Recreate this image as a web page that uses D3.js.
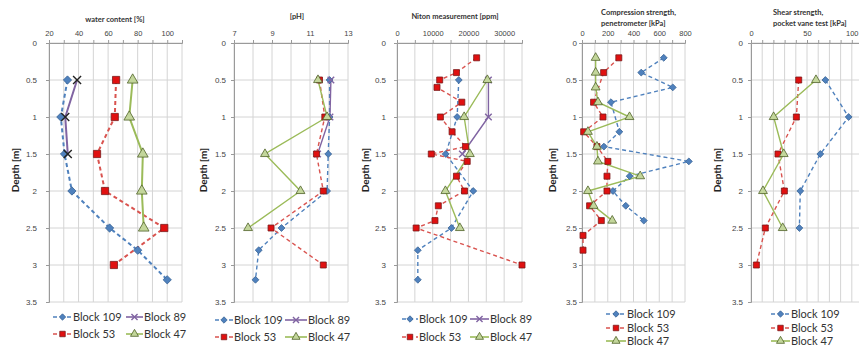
<!DOCTYPE html>
<html>
<head>
<meta charset="utf-8">
<script src="https://cdn.jsdelivr.net/npm/d3@7"></script>
<style>
  body { margin: 0; background: #fff; }
  svg { display: block; font-family: Lato, "Liberation Sans", sans-serif; }
</style>
</head>
<body>
<svg id="chart" width="859" height="346"></svg>
<script>
// depth ticks and sample depths [m]
const depthTicks = [0, 0.5, 1, 1.5, 2, 2.5, 3, 3.5];
const depth109 = [0.5, 1, 1.5, 2, 2.5, 2.8, 3.2];
const depth89 = [0.5, 1, 1.5];
const depth53 = [0.5, 1, 1.5, 2, 2.5, 3];
const depth47 = [0.5, 1, 1.5, 2, 2.5];
const depthNiton53 = [0.2, 0.4, 0.5, 0.6, 0.8, 1, 1.2, 1.4, 1.5, 1.6, 1.8, 2, 2.2, 2.4, 2.5, 3];
const depthComp109 = [0.2, 0.4, 0.6, 0.8, 1.2, 1.4, 1.6, 1.8, 2, 2.2, 2.4];
const depthComp53 = [0.2, 0.4, 0.8, 1, 1.2, 1.4, 1.6, 1.8, 2, 2.2, 2.4, 2.6, 2.8];
const depthComp47 = [0.2, 0.4, 0.6, 0.8, 1, 1.2, 1.4, 1.6, 1.8, 2, 2.2, 2.4];
const depthShear109 = [0.5, 1, 1.5, 2, 2.5];

// water content [%]
const water109 = [32.5, 28, 30.5, 35.5, 61, 80, 100];
const water89 = [39, 31, 32.7];
const water53 = [65.4, 64.5, 52.5, 57.9, 98, 63.9];
const water47 = [76.6, 74.3, 83.5, 82.8, 84.1];

// pH
const ph109 = [12.03, 12.03, 11.96, 11.9, 9.5, 8.3, 8.13];
const ph89 = [12.1, 12.05, 11.4];
const ph53 = [11.5, 11.78, 11.34, 11.7, 8.95, 11.7];
const ph47 = [11.42, 11.9, 8.63, 10.5, 7.74];

// Niton [ppm]
const niton109 = [17300, 16840, 13640, 21350, 15240, 5830, 5830];
const niton89 = [25600, 25600, 18300];
const niton53 = [22300, 16650, 11950, 11200, 18150, 12150, 15430, 19200, 9600, 19660, 16650, 18900, 11570, 10630, 5360, 35000];
const niton47 = [25300, 18800, 20400, 13550, 17600];

// compression strength [kPa]
const comp109 = [635, 460, 705, 225, 290, 170, 830, 370, 240, 340, 480];
const comp53 = [286, 168, 90, 163, 13, 116, 201, 194, 194, 59, 150, 8, 8];
const comp47 = [106, 106, 106, 124, 369, 46, 116, 124, 452, 46, 90, 235];

// shear strength [kPa]
const shear109 = [66.4, 87.2, 61.9, 44, 43.2];
const shear53 = [42.6, 40.5, 24.1, 29.8, 12.8, 4.8];
const shear47 = [58, 20.2, 29.2, 10.7, 28.3];

const styles = {
  b109: { name: 'Block 109', color: '#4F81BD', dash: '4,3', sym: d3.symbolDiamond2 || d3.symbolDiamond, fill: '#4F81BD', stroke: '#3A6496' },
  b89:  { name: 'Block 89',  color: '#8064A2', dash: null,  sym: d3.symbolTimes || d3.symbolCross, fill: 'none', stroke: '#8064A2' },
  b53:  { name: 'Block 53',  color: '#D9534F', dash: '4,3', sym: d3.symbolSquare, fill: '#E01010', stroke: '#7A1A1A' },
  b47:  { name: 'Block 47',  color: '#9BBB59', dash: null,  sym: d3.symbolTriangle, fill: '#C3D69B', stroke: '#4F6228' }
};

const panels = [
  { left: 49, right: 182, domain: [20, 110], minor: 10, labels: [20, 40, 60, 80, 100],
    title: ['water content [%]'], titleX: 115, titleY: [22], titleAnchor: 'middle',
    yLabGap: 12, depthX: 15, big: true,
    series: [['b109', depth109, water109], ['b89', depth89, water89], ['b53', depth53, water53], ['b47', depth47, water47]],
    legend: { cols: [53, 126], rows: [317, 334], order: [['b109', 'b89'], ['b53', 'b47']], w: [19, 17] } },
  { left: 234, right: 348, domain: [7, 13], minor: 1, labels: [7, 9, 11, 13],
    title: ['[pH]'], titleX: 297, titleY: [19], titleAnchor: 'middle',
    yLabGap: 8, depthX: 203,
    series: [['b109', depth109, ph109], ['b89', depth89, ph89], ['b53', depth53, ph53], ['b47', depth47, ph47]],
    legend: { cols: [215, 285], rows: [320, 337], order: [['b109', 'b89'], ['b53', 'b47']], w: [18, 22] } },
  { left: 397, right: 522, domain: [0, 35000], minor: 5000, labels: [0, 10000, 20000, 30000],
    title: ['Niton measurement  [ppm]'], titleX: 455, titleY: [19], titleAnchor: 'middle',
    yLabGap: 11, depthX: 365,
    series: [['b109', depth109, niton109], ['b89', depth89, niton89], ['b53', depthNiton53, niton53], ['b47', depth47, niton47]],
    legend: { cols: [402, 470], rows: [319, 337], order: [['b109', 'b89'], ['b53', 'b47']], w: [16, 19] } },
  { left: 582, right: 685, domain: [0, 800], minor: 100, labels: [0, 200, 400, 600, 800],
    title: ['Compression strength,', 'penetrometer [kPa]'], titleX: 601, titleY: [15, 26], titleAnchor: 'start',
    yLabGap: 5, depthX: 552,
    series: [['b109', depthComp109, comp109], ['b53', depthComp53, comp53], ['b47', depthComp47, comp47]],
    legend: { cols: [606], rows: [314, 328, 341], order: [['b109'], ['b53'], ['b47']], w: [20] } },
  { left: 751, right: 863, domain: [0, 100], minor: 10, labels: [0, 50, 100],
    title: ['Shear strength,', 'pocket vane test [kPa]'], titleX: 773, titleY: [15, 26], titleAnchor: 'start',
    yLabGap: 8, depthX: 717,
    series: [['b109', depthShear109, shear109], ['b53', depth53, shear53], ['b47', depth47, shear47]],
    legend: { cols: [771], rows: [314, 328, 341], order: [['b109'], ['b53'], ['b47']], w: [19] } }
];

const svg = d3.select('#chart');
const plotTop = 43, plotBottom = 302;
const y = d3.scaleLinear().domain([0, 3.5]).range([plotTop, plotBottom]);

function marker(g, key, big, cx, cy, legend) {
  const s = styles[key];
  const scale = big ? 1.45 : 1;
  let size = { b109: 30, b89: 30, b53: 36, b47: 34 }[key] * scale;
  if (legend) size = { b109: 26, b89: 26, b53: 30, b47: 28 }[key];
  g.append('path')
    .attr('d', d3.symbol().type(s.sym).size(size)())
    .attr('transform', `translate(${cx},${cy})`)
    .attr('fill', s.fill)
    .attr('stroke', key === 'b89' && big && !legend ? '#222' : s.stroke)
    .attr('stroke-width', key === 'b89' ? 1.4 : 0.8);
}

panels.forEach(p => {
  const g = svg.append('g');
  const x = d3.scaleLinear().domain(p.domain).range([p.left, p.right]);
  const minorTicks = d3.range(p.domain[0], p.domain[1] + 1e-9, p.minor);

  // gridlines
  g.append('g').selectAll('line').data(minorTicks).join('line')
    .attr('x1', d => x(d)).attr('x2', d => x(d)).attr('y1', plotTop).attr('y2', plotBottom)
    .attr('stroke', '#D4D4D4').attr('stroke-width', 1);
  g.append('g').selectAll('line').data(depthTicks).join('line')
    .attr('x1', p.left).attr('x2', p.right).attr('y1', d => y(d)).attr('y2', d => y(d))
    .attr('stroke', '#D4D4D4').attr('stroke-width', 1);

  // top axis
  const xAxis = d3.axisTop(x).tickValues(minorTicks)
    .tickSize(3).tickPadding(4)
    .tickFormat(d => p.labels.some(v => Math.abs(v - d) < 1e-6) ? d : '');
  const ax = g.append('g').attr('transform', `translate(0,${plotTop})`).call(xAxis);
  ax.select('.domain').attr('stroke', '#9A9A9A');
  ax.selectAll('.tick line').attr('stroke', '#9A9A9A');
  ax.selectAll('text').attr('font-size', 7.5).attr('fill', '#444');
  // keep a label that would run past the page edge inside it
  ax.selectAll('.tick text').filter(d => x(d) > 852).attr('text-anchor', 'end').attr('x', d => 858 - x(d));

  // left axis
  const yAxis = d3.axisLeft(y).tickValues(depthTicks).tickSize(3).tickPadding(p.yLabGap - 3)
    .tickFormat(d => d);
  const ay = g.append('g').attr('transform', `translate(${p.left},0)`).call(yAxis);
  ay.select('.domain').attr('stroke', '#9A9A9A');
  ay.selectAll('.tick line').attr('stroke', '#9A9A9A');
  ay.selectAll('text').attr('font-size', 8).attr('fill', '#444');

  // title
  p.title.forEach((t, i) => {
    g.append('text').attr('x', p.titleX).attr('y', p.titleY[i]).attr('text-anchor', p.titleAnchor)
      .attr('font-size', 7.5).attr('font-weight', 700).attr('fill', '#333').text(t);
  });

  // depth label
  g.append('text').attr('transform', `translate(${p.depthX + 4},170) rotate(-90)`)
    .attr('text-anchor', 'middle').attr('font-size', 10).attr('font-weight', 700).attr('fill', '#222')
    .text('Depth [m]');

  // series, clipped a little outside the plot area
  const clipId = 'clip' + p.left;
  svg.append('clipPath').attr('id', clipId).append('rect')
    .attr('x', p.left - 8).attr('y', plotTop - 8).attr('width', p.right - p.left + 16).attr('height', plotBottom - plotTop + 16);
  const plot = g.append('g').attr('clip-path', `url(#${clipId})`);
  const line = d3.line().x(d => x(d[1])).y(d => y(d[0]));
  p.series.forEach(([key, depths, vals]) => {
    const s = styles[key];
    const pts = depths.map((d, i) => [d, vals[i]]);
    plot.append('path').datum(pts).attr('d', line).attr('fill', 'none')
      .attr('stroke', s.color).attr('stroke-width', p.big ? 2 : 1.4)
      .attr('stroke-dasharray', s.dash);
  });
  p.series.forEach(([key, depths, vals]) => {
    depths.forEach((d, i) => marker(plot, key, p.big, x(vals[i]), y(d), false));
  });

  // legend
  const lg = p.legend;
  lg.order.forEach((row, ri) => {
    row.forEach((key, ci) => {
      const s = styles[key];
      const x0 = lg.cols[ci], w = lg.w[ci] || lg.w[0], yy = lg.rows[ri];
      g.append('line').attr('x1', x0).attr('x2', x0 + w).attr('y1', yy).attr('y2', yy)
        .attr('stroke', s.color).attr('stroke-width', 1.6).attr('stroke-dasharray', s.dash);
      marker(g, key, false, x0 + w / 2, yy, true);
      g.append('text').attr('x', x0 + w + 1).attr('y', yy + 4)
        .attr('font-size', 11).attr('fill', '#333').text(s.name);
    });
  });
});
</script>
</body>
</html>
